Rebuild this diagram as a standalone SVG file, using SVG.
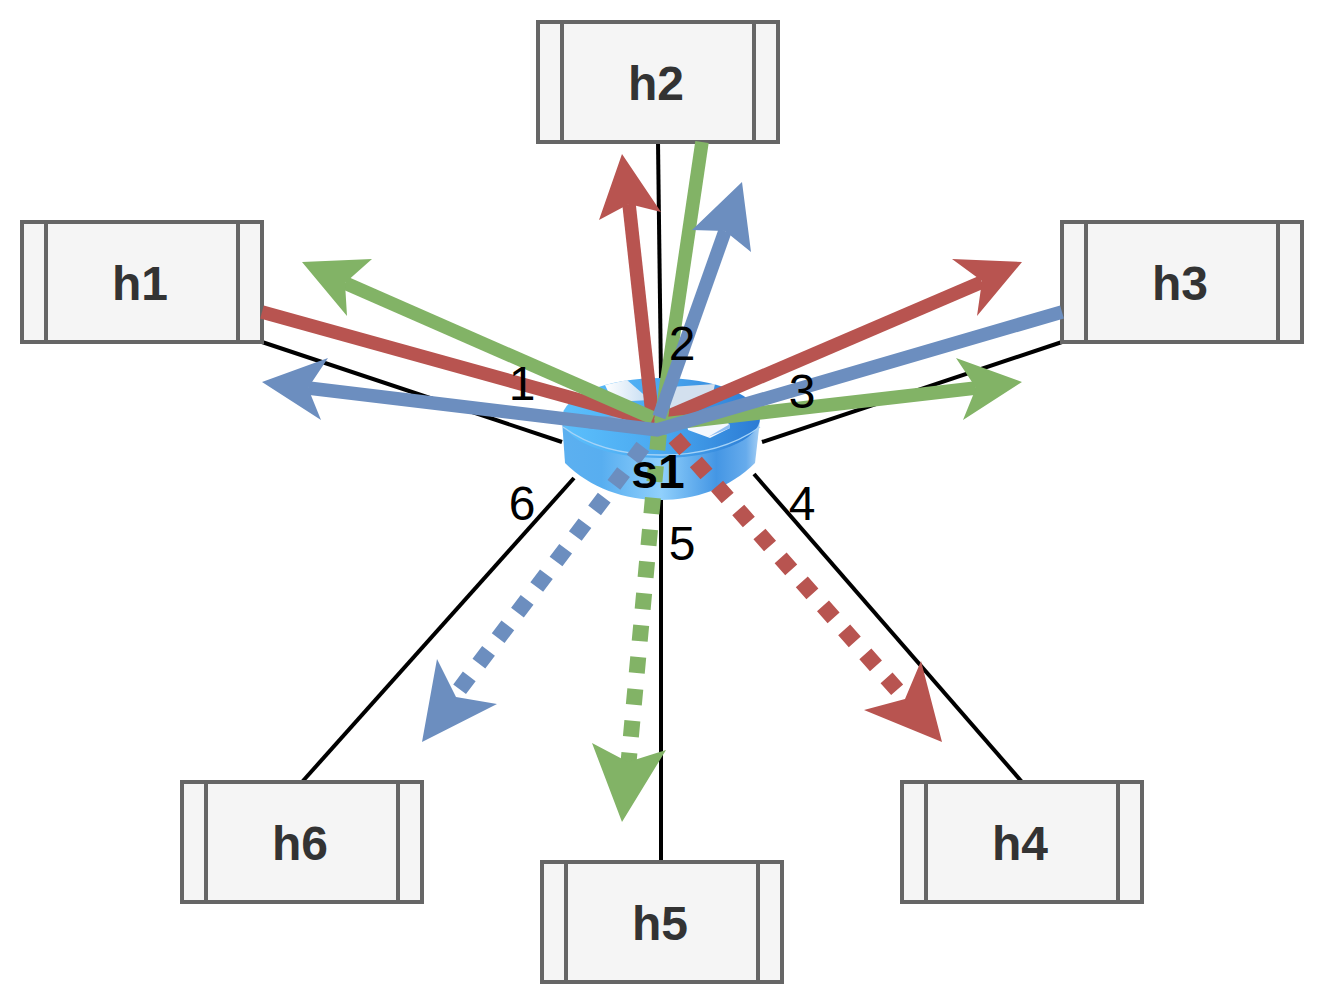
<svg xmlns="http://www.w3.org/2000/svg" width="1324" height="1004" viewBox="0 0 1324 1004">
<style>
.box{fill:#f5f5f5;stroke:#666;stroke-width:4}
.t{font:bold 48px "Liberation Sans",Arial,sans-serif;fill:#333;text-anchor:middle}
.n{font:48px "Liberation Sans",Arial,sans-serif;fill:#000;text-anchor:middle}
.k{fill:none;stroke:#000;stroke-width:4}
.r{stroke:#b85450}.g{stroke:#82b366}.b{stroke:#6c8ebf}
.s{fill:none;stroke-width:13.5}
.d{fill:none;stroke-width:16;stroke-dasharray:16 16}
.rf{fill:#b85450}.gf{fill:#82b366}.bf{fill:#6c8ebf}
</style>
<defs>
<linearGradient id="top" x1="0" x2="1" y1="0" y2="0"><stop offset="0" stop-color="#5cc0fc"/><stop offset="0.5" stop-color="#4aa8f0"/><stop offset="1" stop-color="#2b7bd4"/></linearGradient>
<linearGradient id="side" x1="0" x2="1" y1="0" y2="0"><stop offset="0" stop-color="#5cb0f0"/><stop offset="0.2" stop-color="#58aef0"/><stop offset="0.5" stop-color="#90d0fc"/><stop offset="0.78" stop-color="#4496e4"/><stop offset="0.93" stop-color="#66abec"/><stop offset="1" stop-color="#a8d0f4"/></linearGradient>
<linearGradient id="wh" x1="0" x2="1" y1="0" y2="0"><stop offset="0" stop-color="#ffffff"/><stop offset="1" stop-color="#c4dcf2"/></linearGradient>
<linearGradient id="dk" x1="0" x2="1" y1="0" y2="0"><stop offset="0" stop-color="#3a66ae"/><stop offset="1" stop-color="#dbe8f6"/></linearGradient>
</defs>
<g id="connectors">
<path class="k" d="M262 342L562 442"/>
<path class="k" d="M1062 342L762 442"/>
<path class="k" d="M658 142L661 380"/>
<path class="k" d="M661 500V862"/>
<path class="k" d="M302 782L574 478"/>
<path class="k" d="M1022 782L754 474"/>
</g>
<g id="h1"><rect class="box" x="22" y="222" width="240" height="120"/><path class="box" d="M46 222V342M238 222V342"/><text class="t" x="140" y="300">h1</text></g>
<g id="h2"><rect class="box" x="538" y="22" width="240" height="120"/><path class="box" d="M562 22V142M754 22V142"/><text class="t" x="656" y="100">h2</text></g>
<g id="h3"><rect class="box" x="1062" y="222" width="240" height="120"/><path class="box" d="M1086 222V342M1278 222V342"/><text class="t" x="1180" y="300">h3</text></g>
<g id="h4"><rect class="box" x="902" y="782" width="240" height="120"/><path class="box" d="M926 782V902M1118 782V902"/><text class="t" x="1020" y="860">h4</text></g>
<g id="h5"><rect class="box" x="542" y="862" width="240" height="120"/><path class="box" d="M566 862V982M758 862V982"/><text class="t" x="660" y="940">h5</text></g>
<g id="h6"><rect class="box" x="182" y="782" width="240" height="120"/><path class="box" d="M206 782V902M398 782V902"/><text class="t" x="300" y="860">h6</text></g>
<g id="s1">
<path d="M562 420L565 463C590 488 625 500 660 500C695 500 730 488 755 463L760 420Z" fill="url(#side)"/>
<ellipse cx="661" cy="418" rx="99" ry="40" fill="url(#top)"/>
<path d="M563 427C590 447 625 455 661 455C697 455 732 447 760 427" fill="none" stroke="#a5d3f7" stroke-width="1.5"/>
<path d="M605 385L627 380L650 400L613 402Z" fill="url(#wh)"/>
<path d="M670 387L715 384L712 398L692 412L670 410Z" fill="#d3e0ee"/>
<path d="M588 428L597 417L640 415L640 432Z" fill="url(#dk)"/>
<path d="M687 425L728 422L730 428L710 438L688 430Z" fill="#f4f8fd"/>
<path d="M708 437L730 428V424Z" fill="#8fbdf2"/>
</g>
<g id="flows">
<path class="s r" d="M262 312L655 421"/>
<path class="s r" d="M652 413L629 204"/>
<path class="s r" d="M660 420L982 282"/>
<path class="rf" d="M622 154L599 220L629 204L661 212Z"/>
<path class="rf" d="M1022 262L952 259L982 281L977 316Z"/>
<path class="s g" d="M702 142L661 420"/>
<path class="s g" d="M653 418L345 283"/>
<path class="s g" d="M655 425L976 388"/>
<path class="gf" d="M302 262L372 259L345 283L347 316Z"/>
<path class="gf" d="M1022 382L956 358L976 388L963 420Z"/>
<path class="d b" d="M642.8 446.6L459 690"/>
<path class="d g" d="M658.8 434L628 768"/>
<path class="d r" d="M674.7 438L897.3 690"/>
<path class="s b" d="M1062 312L657 430L308 388"/>
<path class="s b" d="M659 417L725 231"/>
<path class="bf" d="M262 382L328 358L308 388L321 420Z"/>
<path class="bf" d="M742 182L692 230L725 231L751 252Z"/>
<path class="bf" d="M422 742L437 659L456 697L497 704Z"/>
<path class="gf" d="M622 822L592 743L628 762L666 750Z"/>
<path class="rf" d="M942 742L864 710L905 699L921 661Z"/>
</g>
<g id="labels">
<text class="n" x="522" y="400">1</text>
<text class="n" x="682" y="360">2</text>
<text class="n" x="802" y="408">3</text>
<text class="n" x="802" y="520">4</text>
<text class="n" x="682" y="560">5</text>
<text class="n" x="522" y="520">6</text>
<text x="658" y="488" style="font:bold 48px 'Liberation Sans',Arial,sans-serif;text-anchor:middle;fill:#000">s1</text>
</g>
</svg>
